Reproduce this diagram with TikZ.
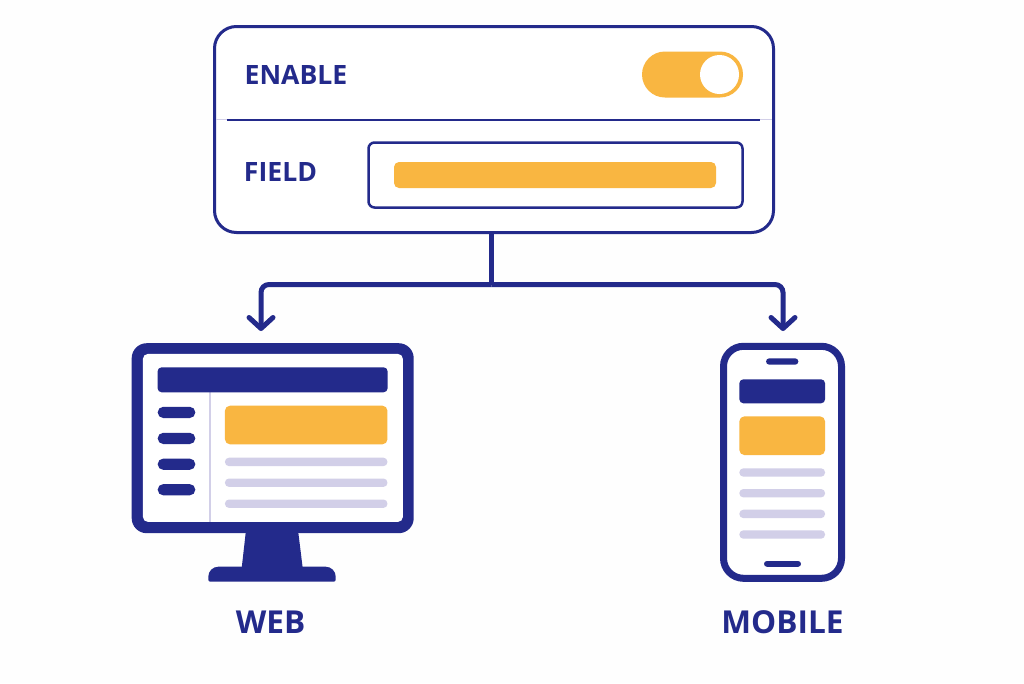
\documentclass[tikz,border=0pt]{standalone}
\usepackage{fontspec}
\setmainfont{Open Sans}
\usetikzlibrary{arrows.meta}
\usetikzlibrary{positioning}
\definecolor{navy}{HTML}{232A8B}
\definecolor{amber}{HTML}{F9B641}
\definecolor{lilac}{HTML}{D2CFE8}
\definecolor{paper}{HTML}{FEFEFE}
\tikzset{
box/.style={rectangle, inner sep=0pt, outer sep=0pt},
outline/.style={box, draw=navy, fill=white},
navybar/.style={box, fill=navy, rounded corners=4pt},
amberbar/.style={box, fill=amber, rounded corners=5pt},
navypill/.style={box, fill=navy, rounded corners=5.5pt, minimum width=37.6pt, minimum height=11.2pt},
textline/.style={box, fill=lilac, rounded corners=4pt, minimum height=8.4pt},
label/.style={inner sep=0pt, text=navy, font=\bfseries\fontsize{26.6}{27}\selectfont},
biglabel/.style={label, font=\bfseries\fontsize{31.6}{32}\selectfont},
link/.style={draw=navy, line width=5pt, rounded corners=8pt, -{Straight Barb[length=11pt,width=24pt,line width=5pt,round]}}
}
\begin{document}
\begin{tikzpicture}[x=1pt,y=-1pt]
\useasboundingbox (0,0) rectangle (1024,683);
\fill[paper] (0,0) rectangle (1024,683);
\node[outline, line width=3pt, rounded corners=22pt, minimum width=559pt, minimum height=206pt] (panel) at (494,129.5) {};
\draw[lilac, line width=1.5pt] (216,119.5) -- (772,119.5);
\draw[navy, line width=2pt] (227,119.5) -- (760,119.5);
\node[label] (enable) at (296,75) {ENABLE};
\node[label] (field) at (280.5,172) {FIELD};
\node[box, fill=amber, rounded corners=23pt, minimum width=101pt, minimum height=46pt] (toggle) at (692.5,74.5) {};
\node[box, circle, fill=white, minimum size=39pt] (knob) at (719.5,74.5) {};
\node[outline, line width=2.5pt, rounded corners=6pt, minimum width=374pt, minimum height=65pt] (input) at (555.5,175) {};
\node[amberbar, minimum width=322pt, minimum height=26pt] (value) at (555,175) {};

\node[box, fill=navy, rounded corners=15pt, minimum width=282pt, minimum height=190pt] (monitor) at (272.7,438.2) {};
\fill[navy] (246,530) -- (298,530) -- (302.7,568) -- (241.7,568) -- cycle;
\fill[navy] [rounded corners=2pt] (272,581.7) -- (208.3,581.7) [rounded corners=10pt] -- (208.3,566.7) -- (335.7,566.7) [rounded corners=2pt] -- (335.7,581.7) -- cycle;
\node[box, fill=white, rounded corners=5pt, minimum width=260pt, minimum height=168pt] (screen) at (272.9,437.9) {};
\draw[lilac, line width=1.5pt] (210,392) -- (210,521.5);
\node[navybar, minimum width=230pt, minimum height=25pt] (webhead) at (272.6,379.8) {};
\node[navypill] (menua) at (176.5,412.4) {};
\node[navypill] (menub) at (176.5,438.4) {};
\node[navypill] (menuc) at (176.5,464.2) {};
\node[navypill] (menud) at (176.5,489.7) {};
\node[amberbar, minimum width=162.5pt, minimum height=38.6pt] (webhero) at (306.2,425) {};
\node[textline, minimum width=162.5pt] (weba) at (306.2,461.9) {};
\node[textline, minimum width=162.5pt] (webb) at (306.2,482.7) {};
\node[textline, minimum width=162.5pt] (webc) at (306.2,503.7) {};
\node[biglabel] (web) at (270.5,622.5) {WEB};

\node[outline, line width=7pt, rounded corners=20pt, minimum width=118pt, minimum height=232pt] (phone) at (782.5,462.3) {};
\node[navypill, minimum width=32.3pt, minimum height=6.4pt, rounded corners=3.2pt] (speaker) at (782.2,361.5) {};
\node[navybar, minimum width=85.7pt, minimum height=24pt] (mobhead) at (782.2,391.3) {};
\node[amberbar, minimum width=85.7pt, minimum height=38.7pt] (mobhero) at (782.2,435.7) {};
\node[textline, minimum width=85.7pt] (moba) at (782.2,472.5) {};
\node[textline, minimum width=85.7pt] (mobb) at (782.2,493.2) {};
\node[textline, minimum width=85.7pt] (mobc) at (782.2,513.9) {};
\node[textline, minimum width=85.7pt] (mobd) at (782.2,534.5) {};
\node[navypill, minimum width=37pt, minimum height=5.8pt, rounded corners=2.9pt] (homebar) at (782.5,563.9) {};
\node[biglabel] (mobile) at (782.5,622.5) {MOBILE};

\coordinate (branch) at (491.5,284.5);
\coordinate (webin) at (261,331);
\coordinate (mobin) at (783,331);
\draw[navy, line width=4.5pt] (panel.south -| branch) -- (branch);
\draw[link] (branch) -| (webin);
\draw[link] (branch) -| (mobin);
\end{tikzpicture}
\end{document}
